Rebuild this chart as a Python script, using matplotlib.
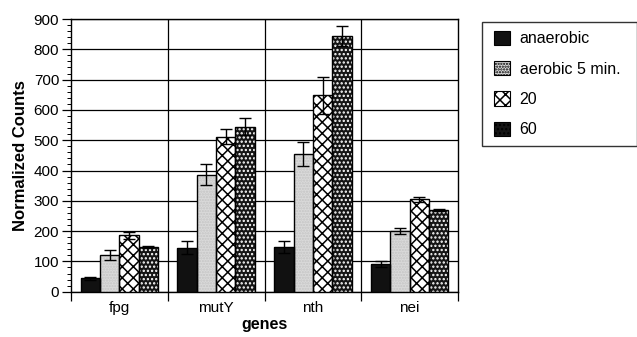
import matplotlib
matplotlib.use("Agg")
import matplotlib.pyplot as plt
import numpy as np
from matplotlib.patches import Patch

plt.rcParams['font.family'] = ['Liberation Sans', 'DejaVu Sans']
plt.rcParams['hatch.linewidth'] = 1.1

genes = ["fpg", "mutY", "nth", "nei"]
series = ["anaerobic", "aerobic 5 min.", "20", "60"]
values = {
    "anaerobic":      [45, 145, 148, 91],
    "aerobic 5 min.": [122, 386, 455, 200],
    "20":             [186, 512, 648, 305],
    "60":             [147, 544, 844, 270],
}
errors = {
    "anaerobic":      [5, 22, 20, 9],
    "aerobic 5 min.": [16, 35, 40, 9],
    "20":             [11, 24, 62, 9],
    "60":             [3, 28, 33, 2],
}

styles = {
    "anaerobic":      dict(face="#111111", hatch=None, hcol="#111111"),
    "aerobic 5 min.": dict(face="#dadada", hatch="......", hcol="#c4c4c4"),
    "20":             dict(face="white", hatch="xxx", hcol="black"),
    "60":             dict(face="#151515", hatch="....", hcol="white"),
}

fig = plt.figure(figsize=(6.37, 3.37), dpi=100)
ax = fig.add_axes([0.1115, 0.1344, 0.6075, 0.8092])

x = np.arange(len(genes))
w = 0.2
for i, s in enumerate(series):
    pos = x - 0.3 + i * w
    st = styles[s]
    ax.bar(pos, values[s], w, color=st["face"], edgecolor=st["hcol"],
           hatch=st["hatch"], linewidth=0, zorder=3)
    ax.bar(pos, values[s], w, facecolor="none", edgecolor="black",
           linewidth=1.0, zorder=4)
    ax.errorbar(pos, values[s], yerr=errors[s], fmt="none", ecolor="black",
                elinewidth=1.0, capsize=4, capthick=1.0, zorder=5)

ax.set_xlim(-0.5, len(genes) - 0.5)
ax.set_ylim(0, 900)
ax.set_yticks(np.arange(0, 901, 100))
ax.set_yticks(np.arange(0, 901, 20), minor=True)
ax.yaxis.grid(True, which="major", color="black", linewidth=0.9, zorder=0)
ax.set_axisbelow(True)

ax.set_xticks(x)
ax.set_xticklabels(genes, fontsize=11)
ax.tick_params(axis="x", which="major", length=0, pad=7)
ax.set_xticks(np.arange(-0.5, len(genes) + 0.5, 1), minor=True)
ax.tick_params(axis="x", which="minor", length=6.5, width=0.9, direction="out")
for b in np.arange(0.5, len(genes) - 0.5, 1):
    ax.axvline(b, color="black", linewidth=0.9, zorder=1)

ax.tick_params(axis="y", which="major", length=6.5, width=0.9, labelsize=11, pad=2)
ax.tick_params(axis="y", which="minor", length=3, width=0.7)
for sp in ax.spines.values():
    sp.set_color("black")
    sp.set_linewidth(1.0)

ax.set_ylabel("Normalized Counts", fontsize=12, fontweight="bold", labelpad=4)
ax.set_xlabel("genes", fontsize=11.5, fontweight="bold", labelpad=1)

handles = []
for s in series:
    st = styles[s]
    handles.append(Patch(facecolor=st["face"], edgecolor="black",
                         hatch=st["hatch"], linewidth=0.8))
leg = fig.legend(handles, series, loc="upper left",
                 bbox_to_anchor=(0.7567, 0.5727, 0.2433, 0.362), mode="expand",
                 fontsize=11.5, frameon=True, fancybox=False, edgecolor="black",
                 handlelength=1.0, handleheight=1.0, handletextpad=0.8,
                 labelspacing=0.92, borderpad=0.55, borderaxespad=0)
leg.get_frame().set_linewidth(1.0)
for h in leg.legend_handles:
    h.set_x(h.get_x() + 2)

fig.savefig("out.png", dpi=100)
